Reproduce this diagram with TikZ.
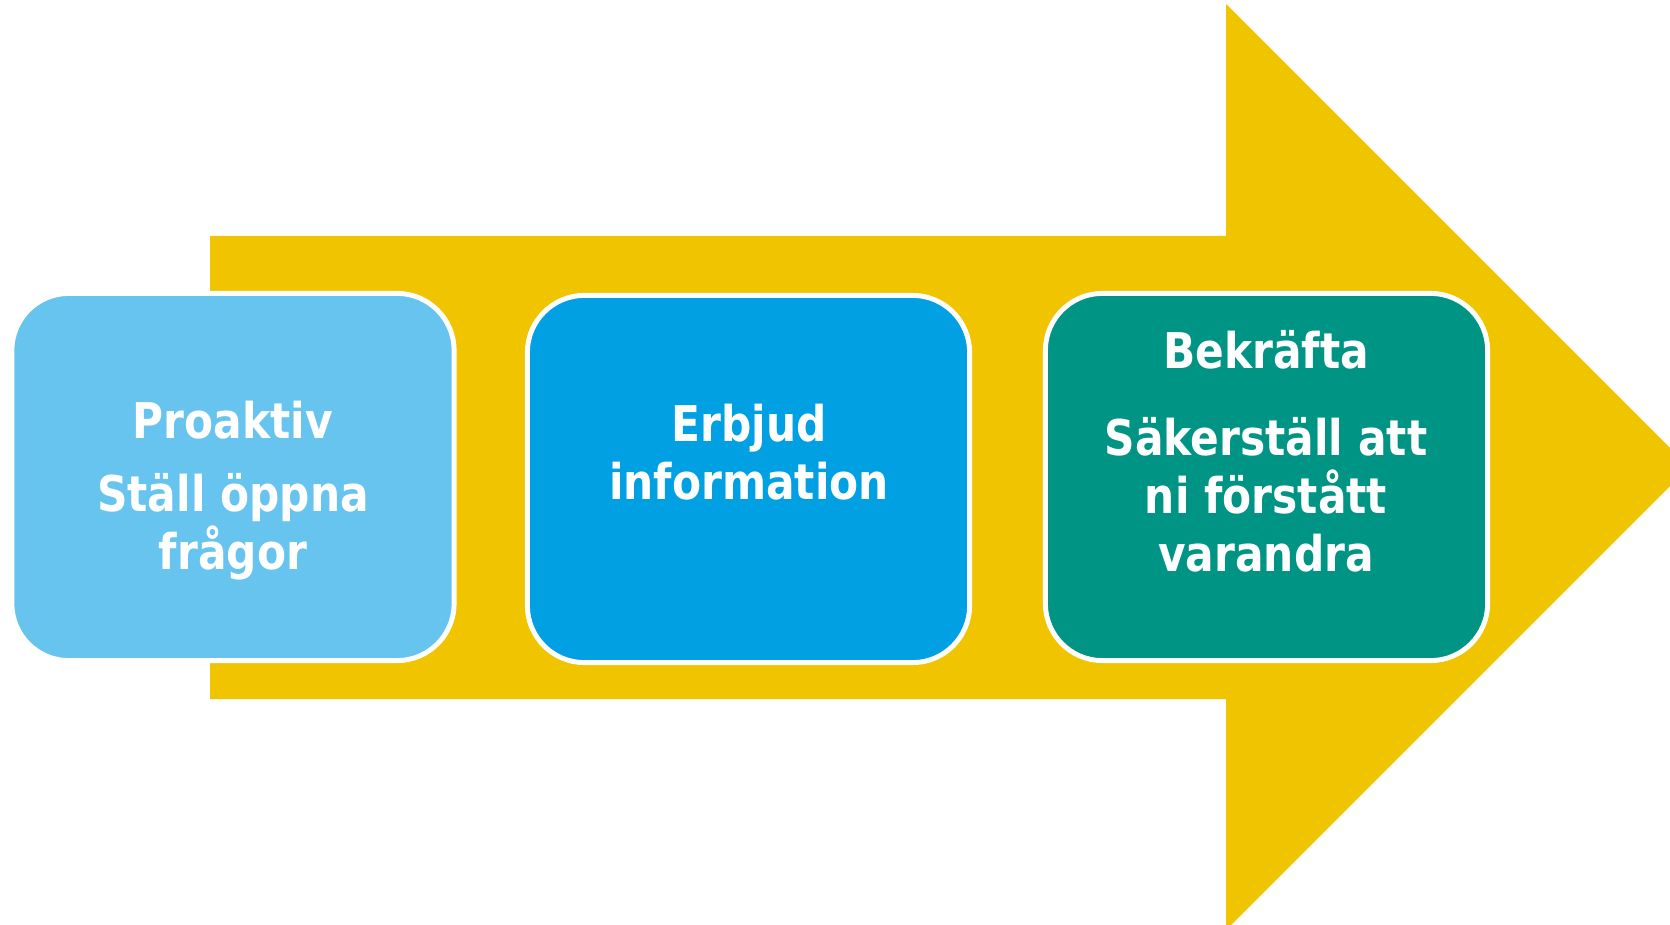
\documentclass[tikz,border=0pt]{standalone}
\usepackage{fontspec}
\setmainfont{DejaVu Sans}[FakeStretch=0.86]
\usepackage{tikz}

\definecolor{pilgul}{RGB}{241,196,0}
\definecolor{ljusbla}{RGB}{102,196,238}
\definecolor{mellanbla}{RGB}{0,160,227}
\definecolor{turkos}{RGB}{0,148,133}

\tikzset{
  ruta/.style={draw=white, line width=1.4pt, rounded corners=0.57cm,
    minimum width=4.42cm, minimum height=3.67cm, inner sep=0pt},
  rubrik/.style={text=white, align=center, anchor=base, inner sep=0pt,
    font=\bfseries\fontsize{14pt}{16.5pt}\selectfont}
}

\begin{document}
\begin{tikzpicture}[x=0.01cm, y=-0.01cm]
        \useasboundingbox (0,0) rectangle (1670,925);
        \clip (0,0) rectangle (1670,925);

        % pilen
        \fill[pilgul] (210,236) -- (1226,236) -- (1226,4) -- (1689,467)
          -- (1226,930) -- (1226,699) -- (210,699) -- cycle;

        \node[ruta, fill=ljusbla] (proaktiv) at (233,477) {};
        \node[ruta, fill=mellanbla] (erbjud) at (748.5,479) {};
        \node[ruta, fill=turkos] (bekrafta) at (1266.5,477) {};

        % texten: ankare = sista radens baslinje
        \node[rubrik] (proaktivtext) at (233,570) {Proaktiv\\[4.3pt]Ställ öppna\\frågor};
        \node[rubrik] (erbjudtext) at (749,500) {Erbjud\\information};
        \node[rubrik] (bekraftatext) at (1266,572) {Bekräfta\\[8.5pt]Säkerställ att\\ni förstått\\varandra};
      \end{tikzpicture}
\end{document}
